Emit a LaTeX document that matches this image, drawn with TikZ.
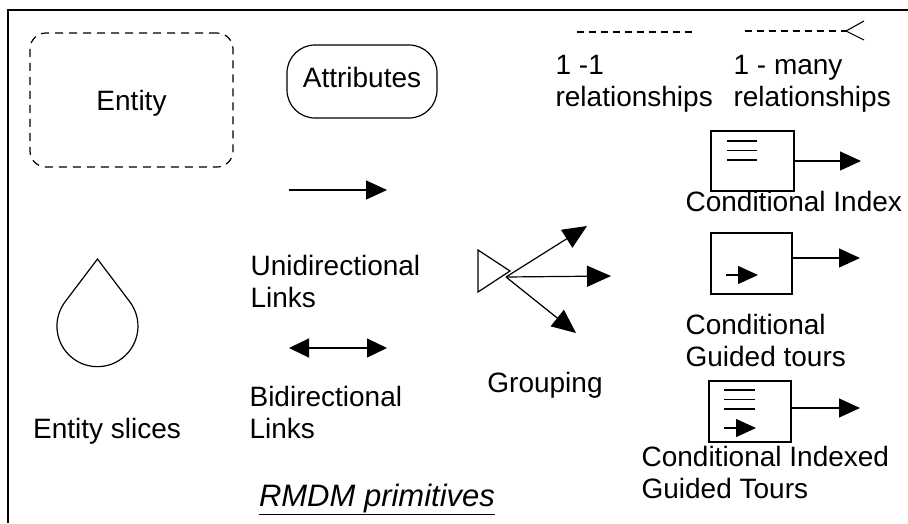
\documentclass[tikz,border=0pt]{standalone}
\usepackage{fontspec}
\setmainfont{Liberation Sans}
\usetikzlibrary{arrows.meta}
\begin{document}
\begin{tikzpicture}[x=1pt,y=-1pt,line width=1.2pt,
  lbl/.style={font=\fontsize{28}{32}\selectfont,inner sep=0pt,align=left},
  tipA/.style={-{Triangle[length=21pt,width=19pt]}},
  tipG/.style={-{Triangle[length=24pt,width=21pt]}},
  tipB/.style={{Triangle[length=20pt,width=19pt]}-{Triangle[length=20pt,width=19pt]}},
  tipS/.style={-{Triangle[length=20pt,width=18pt]}},
  dashline/.style={dash pattern=on 7pt off 5pt,line width=1.1pt},
  cbox/.style={draw,line width=1.2pt,inner sep=0pt}]
\useasboundingbox (0,0) rectangle (908,523);
% frame
\draw[line width=2pt] (8,523) -- (8,10) -- (908,10);
% Entity
\node[draw,lbl,dash pattern=on 8pt off 6pt,line width=1.2pt,rounded corners=16pt,
  minimum width=203pt,minimum height=134pt,text height=20pt,text depth=0pt] (entity) at (131.5,100) {Entity};
% Attributes
\node[draw,lbl,rounded corners=28pt,minimum width=150pt,minimum height=73pt,
  text height=20pt,text depth=9pt] (attr) at (362,81.5) {Attributes};
% relationships
\coordinate (r1a) at (577,32); \coordinate (r1b) at (695,32);
\draw[dashline] (r1a) -- (r1b);
\coordinate (r2a) at (745,31); \coordinate (r2b) at (846,31);
\coordinate (r2u) at (864,21); \coordinate (r2d) at (864,40);
\draw[dashline] (r2a) -- (r2b);
\draw[line width=1.1pt] (r2u) -- (r2b) -- (r2d);
\node[lbl,anchor=base west] (rel1) at (555,106) {1 -1\\relationships};
\node[lbl,anchor=base west] (rel2) at (733,106) {1 - many\\relationships};
% unidirectional
\coordinate (u1) at (289,190); \coordinate (u2) at (387,190);
\draw[tipA] (u1) -- (u2);
\node[lbl,anchor=base west] (uni) at (250,307) {Unidirectional\\Links};
% bidirectional
\coordinate (b1) at (289,348); \coordinate (b2) at (387,348);
\draw[tipB] (b1) -- (b2);
\node[lbl,anchor=base west] (bi) at (249,438) {Bidirectional\\Links};
% entity slices (drop)
\coordinate (dtop) at (97.5,259);
\draw (dtop) -- (129.5,301.4) arc[start angle=37.7,end angle=-217.7,radius=40.5pt] -- cycle;
\node[lbl,anchor=base] (slices) at (107,438) {Entity slices};
% grouping
\draw (478,250) -- (478,292) -- (510,271) -- cycle;
\coordinate (g0) at (506,277);
\coordinate (g1) at (587,226); \coordinate (g2) at (611,276); \coordinate (g3) at (576,333);
\draw[tipG] (g0) -- (g1);
\draw[tipG] (g0) -- (g2);
\draw[tipG] (g0) -- (g3);
\node[lbl,anchor=base] (grp) at (545,392) {Grouping};
% conditional index
\node[cbox,minimum width=83pt,minimum height=60pt] (ci) at (752.5,161) {};
\draw (727,141) -- (757,141);
\draw (727,150.5) -- (757,150.5);
\draw (727,160) -- (757,160);
\coordinate (ciT) at (861,161);
\draw[tipA] (ci.east) -- (ciT);
\node[lbl,anchor=base west] (cil) at (685,211) {Conditional Index};
% conditional guided tours
\node[cbox,minimum width=81pt,minimum height=61pt] (cg) at (751.5,263.5) {};
\coordinate (cgs) at (726,275); \coordinate (cgt) at (758,275);
\draw[tipS] (cgs) -- (cgt);
\coordinate (cgT) at (860,258);
\draw[tipA] (cg.east |- cgT) -- (cgT);
\node[lbl,anchor=base west] (cgl) at (685,366) {Conditional\\Guided tours};
% conditional indexed guided tours
\node[cbox,minimum width=82pt,minimum height=61pt] (cx) at (750,411.5) {};
\draw (724,390) -- (755,390);
\draw (724,399.5) -- (755,399.5);
\draw (724,409) -- (755,409);
\coordinate (cxs) at (724,428); \coordinate (cxt) at (756,428);
\draw[tipS] (cxs) -- (cxt);
\coordinate (cxT) at (860,408);
\draw[tipA] (cx.east |- cxT) -- (cxT);
\node[lbl,anchor=base west] (cxl) at (641,498) {Conditional Indexed\\Guided Tours};
% title
\node[inner sep=0pt,anchor=base,font=\fontsize{31}{36}\selectfont\itshape] (title) at (377,506) {\underline{RMDM primitives}};
\end{tikzpicture}
\end{document}
